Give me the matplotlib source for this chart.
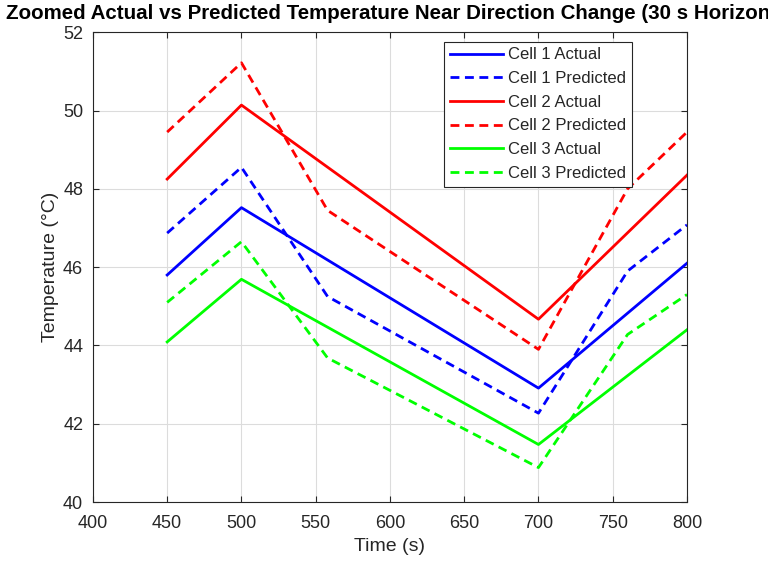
import matplotlib
matplotlib.use('Agg')
import matplotlib.pyplot as plt

plt.rcParams['font.family'] = ['Liberation Sans', 'DejaVu Sans']

# actual temperatures
t_act = [450, 500, 700, 800]
cell1_act = [45.80, 47.52, 42.91, 46.10]
cell2_act = [48.25, 50.14, 44.67, 48.35]
cell3_act = [44.09, 45.69, 41.47, 44.40]

# predicted temperatures (30 s horizon)
t_pred = [450, 500, 558, 700, 760, 800]
cell1_pred = [46.87, 48.55, 45.25, 42.27, 45.90, 47.08]
cell2_pred = [49.45, 51.22, 47.45, 43.90, 48.00, 49.45]
cell3_pred = [45.10, 46.65, 43.68, 40.88, 44.28, 45.30]

fig = plt.figure(figsize=(7.68, 5.66), dpi=100)
ax = fig.add_axes([0.121, 0.113, 0.7735, 0.83])

lw = 2
dash = (0, (3.2, 2.0))
ax.plot(t_act, cell1_act, color='#0000ff', lw=lw, label='Cell 1 Actual')
ax.plot(t_pred, cell1_pred, color='#0000ff', lw=lw, ls=dash, label='Cell 1 Predicted')
ax.plot(t_act, cell2_act, color='#ff0000', lw=lw, label='Cell 2 Actual')
ax.plot(t_pred, cell2_pred, color='#ff0000', lw=lw, ls=dash, label='Cell 2 Predicted')
ax.plot(t_act, cell3_act, color='#00ff00', lw=lw, label='Cell 3 Actual')
ax.plot(t_pred, cell3_pred, color='#00ff00', lw=lw, ls=dash, label='Cell 3 Predicted')

ax.set_xlim(400, 800)
ax.set_ylim(40, 52)
ax.set_xticks(range(400, 801, 50))
ax.set_yticks(range(40, 53, 2))
ax.grid(True, color='#dcdcdc', lw=0.8)
ax.set_axisbelow(True)
ax.tick_params(direction='in', top=True, right=True, length=4, labelsize=13,
               colors='#262626', width=0.8)
ax.tick_params(axis='x', pad=9)
ax.tick_params(axis='y', pad=7)
for s in ax.spines.values():
    s.set_color('#262626')
    s.set_linewidth(0.8)

ax.set_xlabel('Time (s)', fontsize=14, color='#262626', labelpad=5)
ax.set_ylabel('Temperature (°C)', fontsize=14, color='#262626', labelpad=3)
fig.text(0.51, 0.976, 'Zoomed Actual vs Predicted Temperature Near Direction Change (30 s Horizon)',
         ha='center', va='center', fontsize=14.8, fontweight='bold', color='black')

leg = ax.legend(loc='upper right', bbox_to_anchor=(0.908, 0.98), fontsize=12,
                frameon=True, fancybox=False, edgecolor='#262626', framealpha=1,
                handlelength=3.2, handletextpad=0.3, labelspacing=0.52, borderpad=0.35,
                borderaxespad=0)
leg.get_frame().set_linewidth(0.8)
for txt in leg.get_texts():
    txt.set_color('#262626')

fig.savefig('out.png', dpi=100)
